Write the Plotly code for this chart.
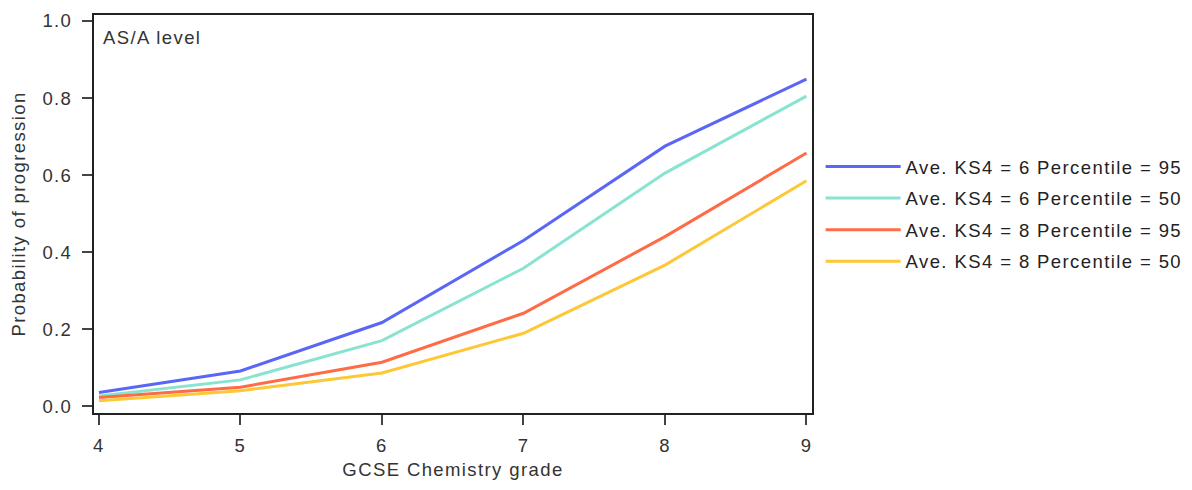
import plotly.graph_objects as go

grades = [4, 5, 6, 7, 8, 9]
ks4_6_p95 = [0.035, 0.091, 0.217, 0.430, 0.675, 0.849]
ks4_6_p50 = [0.026, 0.068, 0.170, 0.358, 0.605, 0.805]
ks4_8_p95 = [0.022, 0.049, 0.114, 0.241, 0.440, 0.657]
ks4_8_p50 = [0.014, 0.040, 0.086, 0.189, 0.366, 0.585]
y_ticks = [0.0, 0.2, 0.4, 0.6, 0.8, 1.0]

series = [
    ("Ave. KS4 = 6 Percentile = 95", ks4_6_p95, "#5a66f6"),
    ("Ave. KS4 = 6 Percentile = 50", ks4_6_p50, "#88e4d0"),
    ("Ave. KS4 = 8 Percentile = 95", ks4_8_p95, "#ff6b45"),
    ("Ave. KS4 = 8 Percentile = 50", ks4_8_p50, "#fdc735"),
]

FONT = "Liberation Sans, Arial, sans-serif"
SZ = 18.5


def sp(t, ls=1.4):
    return f'<span style="letter-spacing:{ls}px">{t}</span>'


fig = go.Figure()
for i, (name, vals, col) in enumerate(series):
    fig.add_trace(go.Scatter(x=grades, y=vals, mode="lines", name=sp(name),
                             legendgroup=f"g{i}",
                             line=dict(color=col, width=3)))

fig.update_layout(
    width=1192, height=490,
    margin=dict(l=94, r=380, t=15, b=77, autoexpand=False),
    paper_bgcolor="white", plot_bgcolor="white",
    font=dict(family=FONT, size=SZ, color="#333333"),
    showlegend=True,
    legend=dict(x=1.012, xanchor="left", y=0.5, yanchor="middle",
                font=dict(family=FONT, size=SZ, color="#222222"),
                tracegroupgap=4.5, itemwidth=75,
                bgcolor="rgba(0,0,0,0)"),
    xaxis=dict(range=[3.965, 9.039], tickvals=grades, ticktext=[sp(str(g)) for g in grades],
               showgrid=False, zeroline=False, showline=True, linecolor="#222222",
               linewidth=2, mirror=True, ticks="outside", ticklen=10, tickwidth=2,
               tickcolor="#444444", ticklabelstandoff=5,
               title=dict(text=sp("GCSE Chemistry grade"), standoff=8,
                          font=dict(family=FONT, size=SZ, color="#333333"))),
    yaxis=dict(range=[-0.018, 1.0156], tickvals=y_ticks,
               ticktext=[sp(f"{v:.1f}") for v in y_ticks],
               showgrid=False, zeroline=False, showline=True, linecolor="#222222",
               linewidth=2, mirror=True, ticks="outside", ticklen=10, tickwidth=2,
               tickcolor="#444444", ticklabelstandoff=6,
               title=dict(text=sp("Probability of progression"), standoff=12,
                          font=dict(family=FONT, size=SZ, color="#333333"))),
    annotations=[dict(text=sp("AS/A level"), xref="paper", yref="paper",
                      x=0, y=1, xanchor="left", yanchor="top", xshift=7, yshift=-10,
                      showarrow=False, font=dict(family=FONT, size=SZ, color="#333333"))],
)

fig.write_html("out.html")
